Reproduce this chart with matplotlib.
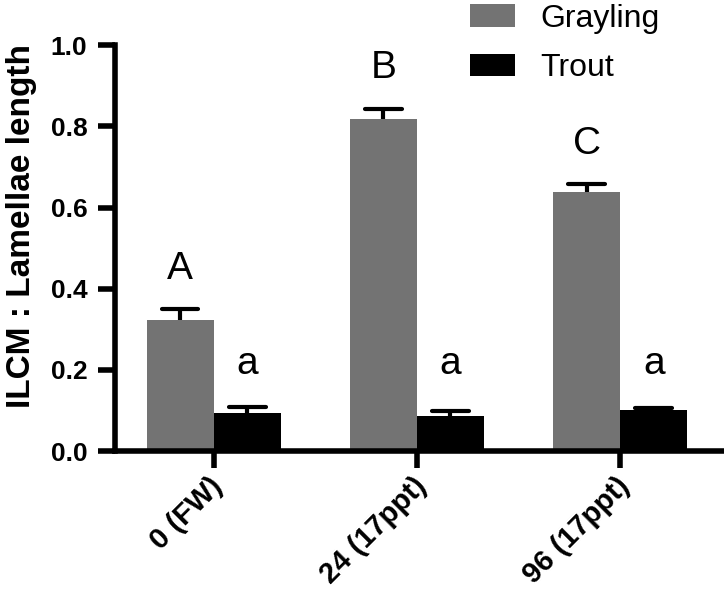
import numpy as np
import matplotlib.pyplot as plt
from matplotlib.transforms import ScaledTranslation

plt.rcParams['font.family'] = ['Liberation Sans', 'DejaVu Sans']

groups = ['0 (FW)', '24 (17ppt)', '96 (17ppt)']
grayling = [0.323, 0.818, 0.639]
grayling_err = [0.026, 0.025, 0.018]
trout = [0.093, 0.087, 0.101]
trout_err = [0.016, 0.011, 0.004]
grayling_letters = ['A', 'B', 'C']
trout_letters = ['a', 'a', 'a']

fig = plt.figure(figsize=(7.24, 5.95), dpi=100)
ax = fig.add_axes([0.159, 0.242, 0.838, 0.682])

x = np.arange(len(groups))
w = 0.33
cap = 0.09
xg = x - w/2
xt = x + w/2
ax.bar(xg, grayling, w, color='#737373', label='Grayling', zorder=2)
ax.bar(xt, trout, w, color='black', label='Trout', zorder=2)

# one-sided error bars (upper only)
g_top = np.array(grayling) + np.array(grayling_err)
t_top = np.array(trout) + np.array(trout_err)
for xp, v, top in [(xg, grayling, g_top), (xt, trout, t_top)]:
    ax.vlines(xp, v, top, color='black', lw=3, zorder=3)
    ax.hlines(top, xp - cap, xp + cap, color='black', lw=3, capstyle='round', zorder=3)

# significance letters
for i in range(3):
    ax.text(xg[i], g_top[i] + 0.075, grayling_letters[i],
            ha='center', va='baseline', fontsize=28)
    ax.text(xt[i], 0.19, trout_letters[i], ha='center', va='baseline', fontsize=28)

ax.set_xlim(-0.485, 2.5)
ax.set_ylim(0, 1.0)
ax.set_yticks([0.0, 0.2, 0.4, 0.6, 0.8, 1.0])
ax.set_yticklabels(['0.0', '0.2', '0.4', '0.6', '0.8', '1.0'], fontweight='bold', fontsize=19)

# x tick labels drawn as rotated texts, nudged like the original
ax.set_xticks(x)
ax.set_xticklabels([])
tr = ax.get_xaxis_transform() + ScaledTranslation(-0.05, -0.21, fig.dpi_scale_trans)
for i in range(3):
    ax.text(x[i], 0, groups[i], transform=tr, rotation=45, rotation_mode='anchor',
            ha='right', va='top', fontweight='bold', fontsize=21)

ax.set_ylabel('ILCM : Lamellae length', fontweight='bold', fontsize=24)
ax.yaxis.set_label_coords(-0.128, 0.555)

for s in ['top', 'right']:
    ax.spines[s].set_visible(False)
for s in ['left', 'bottom']:
    ax.spines[s].set_linewidth(4)
ax.tick_params(width=4, length=12)
ax.tick_params(axis='y', pad=8)

fig.legend(*ax.get_legend_handles_labels(), loc='upper left', bbox_to_anchor=(0.641, 1.004),
           frameon=False, fontsize=23, handlelength=1.38, handleheight=0.72,
           handletextpad=0.8, labelspacing=0.6, borderpad=0.2, borderaxespad=0)

fig.savefig('out.png', dpi=100)
